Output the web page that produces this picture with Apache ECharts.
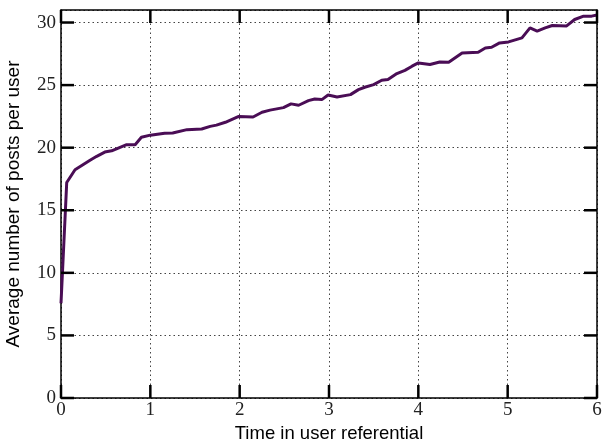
<!DOCTYPE html>
<html>
<head>
<meta charset="utf-8">
<script src="https://cdn.jsdelivr.net/npm/echarts@6/dist/echarts.min.js"></script>
<style>html,body{margin:0;padding:0;background:#fff}#c{width:605px;height:442px}</style>
</head>
<body>
<div id="c"></div>
<script>
var times = [0, 0.064, 0.157, 0.325, 0.40, 0.49, 0.567, 0.735, 0.83, 0.90, 1.0, 1.16, 1.25, 1.41, 1.575, 1.67, 1.74, 1.84, 1.99, 2.15, 2.25, 2.34, 2.49, 2.575, 2.66, 2.77, 2.84, 2.92, 2.99, 3.09, 3.24, 3.33, 3.40, 3.50, 3.59, 3.66, 3.76, 3.85, 3.93, 4.0, 4.13, 4.24, 4.34, 4.49, 4.67, 4.75, 4.82, 4.91, 5.01, 5.16, 5.25, 5.33, 5.42, 5.50, 5.66, 5.75, 5.85, 5.94, 6.0];
var avgPosts = [7.57, 17.22, 18.24, 18.99, 19.31, 19.65, 19.75, 20.24, 20.24, 20.83, 21.0, 21.15, 21.17, 21.44, 21.49, 21.7, 21.8, 22.03, 22.5, 22.45, 22.83, 23.0, 23.2, 23.5, 23.39, 23.76, 23.89, 23.84, 24.21, 24.05, 24.24, 24.64, 24.83, 25.04, 25.39, 25.44, 25.92, 26.18, 26.51, 26.77, 26.64, 26.85, 26.83, 27.57, 27.63, 27.97, 28.02, 28.37, 28.45, 28.77, 29.57, 29.31, 29.57, 29.76, 29.73, 30.24, 30.51, 30.51, 30.6];
var xTicks = [0, 1, 2, 3, 4, 5, 6];
var yTicks = [0, 5, 10, 15, 20, 25, 30];
var yMax = 31;

var xMin = xTicks[0], xMax = xTicks[xTicks.length - 1];
var points = times.map(function (t, i) { return [t, avgPosts[i]]; });
function labelFont() { return {fontFamily: 'Liberation Serif', fontSize: 19, color: '#222'}; }
function axLine() { return {show: true, onZero: false, lineStyle: {color: '#000', width: 1.5}}; }
function grid() { return {show: true, lineStyle: {type: [1.5, 3], color: '#444', width: 1}}; }
var TL = 13;
function ts() { return {stroke: '#000', lineWidth: 2.5}; }

var chart = echarts.init(document.getElementById('c'));
chart.setOption({
  animation: false,
  grid: {left: 61, right: 8, top: 10, bottom: 44, outerBoundsMode: 'none', containLabel: false},
  xAxis: [{
    type: 'value', min: xMin, max: xMax, interval: 1, position: 'bottom',
    name: 'Time in user referential', nameLocation: 'middle', nameGap: 26,
    nameTextStyle: {fontFamily: 'Liberation Sans', fontSize: 18.5, color: '#000'},
    axisLine: axLine(), axisTick: {show: false}, splitLine: grid(),
    axisLabel: Object.assign({margin: 3}, labelFont())
  }, {
    type: 'value', min: xMin, max: xMax, interval: 1, position: 'top',
    axisLine: axLine(), axisTick: {show: false}, splitLine: {show: false}, axisLabel: {show: false}
  }],
  yAxis: [{
    type: 'value', min: yTicks[0], max: yMax, interval: 5, position: 'left',
    name: 'Average number of posts per user', nameLocation: 'middle', nameGap: 38,
    nameTextStyle: {fontFamily: 'Liberation Sans', fontSize: 19, color: '#000'},
    axisLine: axLine(), axisTick: {show: false}, splitLine: grid(),
    axisLabel: Object.assign({margin: 5, showMaxLabel: false}, labelFont())
  }, {
    type: 'value', min: yTicks[0], max: yMax, interval: 5, position: 'right',
    axisLine: axLine(), axisTick: {show: false}, splitLine: {show: false}, axisLabel: {show: false}
  }],
  series: [{
    type: 'line', data: points, xAxisIndex: 0, yAxisIndex: 0, z: 3,
    showSymbol: false, lineStyle: {color: '#4a0d55', width: 3}
  }, {
    type: 'custom', silent: true, z: 10, clip: false,
    data: yTicks.map(function (v) { return [xMin, v]; }),
    encode: {x: 0, y: 1},
    renderItem: function (params, api) {
      var v = api.value(1);
      var a = api.coord([xMin, v]), b = api.coord([xMax, v]);
      return {type: 'group', children: [
        {type: 'line', shape: {x1: a[0], y1: a[1], x2: a[0] + TL, y2: a[1]}, style: ts()},
        {type: 'line', shape: {x1: b[0], y1: b[1], x2: b[0] - TL, y2: b[1]}, style: ts()}
      ]};
    }
  }, {
    type: 'custom', silent: true, z: 10, clip: false,
    data: xTicks.map(function (v) { return [v, yTicks[0]]; }),
    encode: {x: 0, y: 1},
    renderItem: function (params, api) {
      var v = api.value(0);
      var a = api.coord([v, yTicks[0]]), b = api.coord([v, yMax]);
      return {type: 'group', children: [
        {type: 'line', shape: {x1: a[0], y1: a[1], x2: a[0], y2: a[1] - TL}, style: ts()},
        {type: 'line', shape: {x1: b[0], y1: b[1], x2: b[0], y2: b[1] + TL}, style: ts()}
      ]};
    }
  }]
});
</script>
</body>
</html>
